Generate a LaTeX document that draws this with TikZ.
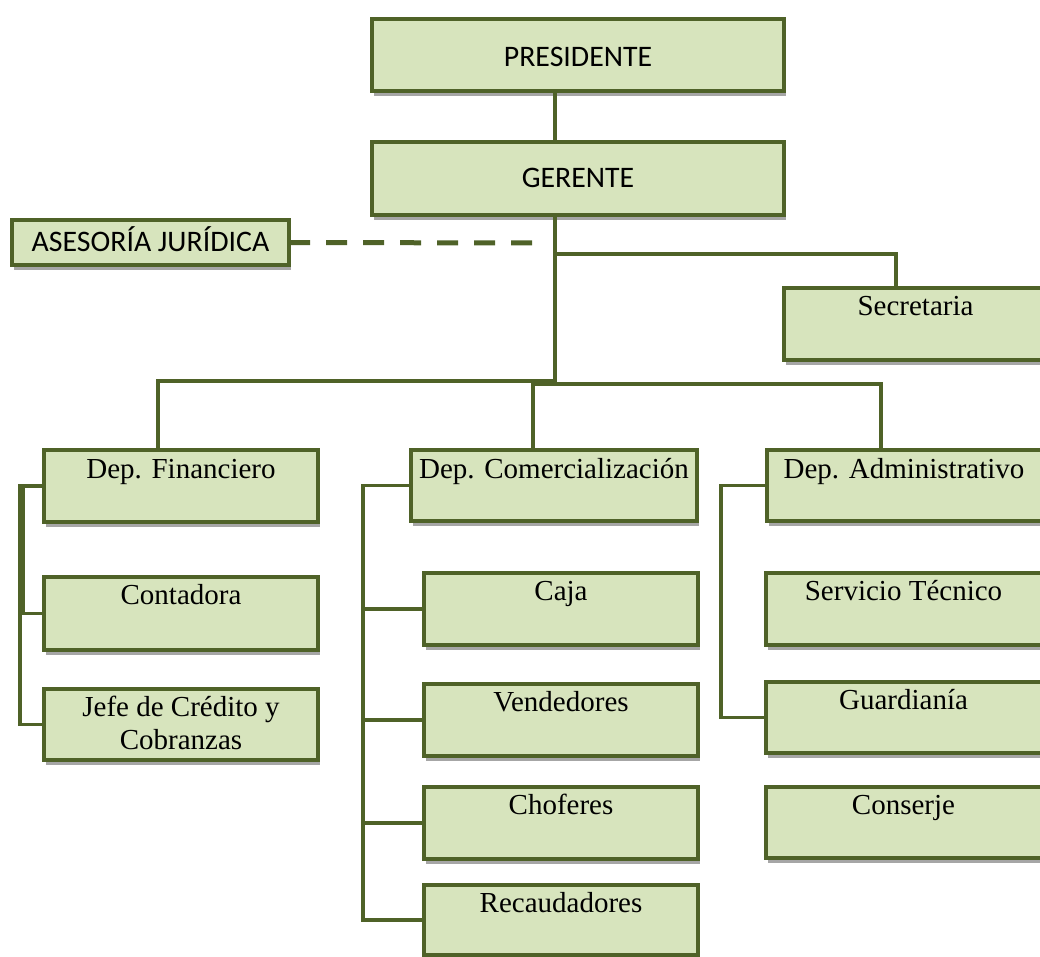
\documentclass[tikz,border=0pt]{standalone}
\usepackage{fontspec}
\setmainfont{Liberation Serif}
\newfontfamily\calib{Carlito}
\usetikzlibrary{shadows,calc}
\definecolor{boxfill}{RGB}{215,228,189}
\definecolor{olivebd}{RGB}{79,98,40}
\definecolor{shadowgray}{RGB}{166,166,166}
\tikzset{
  box/.style={draw=olivebd, line width=4pt, fill=boxfill, inner sep=0pt, outer sep=0pt,
    drop shadow={shadow xshift=1.5pt, shadow yshift=-5pt, fill=shadowgray, opacity=1}},
  conn/.style={draw=olivebd, line width=3.2pt},
  dashconn/.style={draw=olivebd, line width=5pt, dash pattern=on 21pt off 16pt},
  ctext/.style={font=\calib\fontsize{29.8}{35}\selectfont, text=black, inner sep=0pt, anchor=base},
  ttext/.style={font=\fontsize{29}{33}\selectfont, text=black, inner sep=0pt, align=center, anchor=base},
}
\newcommand\mkbox[5]{%
  \node[box, minimum width={(#4-#2)*1pt}, minimum height={(#5-#3)*1pt}] (#1) at ({(#2+#4)/2},{(#3+#5)/2}) {};}
\begin{document}
\begin{tikzpicture}[x=1pt,y=-1pt]
\useasboundingbox (0,0) rectangle (1040,957);
% boxes
\mkbox{pres}{372}{19}{784}{91}
\mkbox{ger}{372}{142}{784}{215}
\mkbox{ases}{12}{220}{289}{265}
\mkbox{sec}{784}{288}{1043}{360}
\mkbox{fin}{44}{450}{318}{522}
\mkbox{com}{411}{450}{697}{521}
\mkbox{adm}{767}{450}{1043}{521}
\mkbox{cont}{44}{577}{318}{650}
\mkbox{jefe}{44}{689}{318}{760}
\mkbox{caja}{424}{573}{698}{645}
\mkbox{vend}{424}{684}{698}{756}
\mkbox{chof}{424}{787}{698}{859}
\mkbox{rec}{424}{885}{698}{955}
\mkbox{serv}{766}{573}{1043}{645}
\mkbox{guar}{766}{682}{1043}{753}
\mkbox{cons}{766}{787}{1043}{858}
% texts
\node[ctext] (t-pres) at ($(pres.north)+(0,48)$) {PRESIDENTE};
\node[ctext] (t-ger) at ($(ger.north)+(0,46)$) {GERENTE};
\node[ctext] (t-ases) at ($(ases.north)+(0,32)$) {ASESORÍA JURÍDICA};
\node[ttext] (t-sec) at ($(sec.north)+(2,28)$) {Secretaria};
\node[ttext] (t-fin) at ($(fin.north)+(0,28)$) {Dep. Financiero};
\node[ttext] (t-com) at ($(com.north)+(0,28)$) {Dep. Comercialización};
\node[ttext] (t-adm) at ($(adm.north)+(-1,28)$) {Dep. Administrativo};
\node[ttext] (t-cont) at ($(cont.north)+(0,27)$) {Contadora};
\node[ttext] (t-jefe) at ($(jefe.north)+(0,60)$) {Jefe de Crédito y\\Cobranzas};
\node[ttext] (t-caja) at ($(caja.north)+(0,27)$) {Caja};
\node[ttext] (t-vend) at ($(vend.north)+(0,27)$) {Vendedores};
\node[ttext] (t-chof) at ($(chof.north)+(0,27)$) {Choferes};
\node[ttext] (t-rec) at ($(rec.north)+(0,27)$) {Recaudadores};
\node[ttext] (t-serv) at ($(serv.north)+(-1,27)$) {Servicio Técnico};
\node[ttext] (t-guar) at ($(guar.north)+(-1,27)$) {Guardianía};
\node[ttext] (t-cons) at ($(cons.north)+(-1,27)$) {Conserje};
% junction coordinates
\coordinate (j0) at (555,254);
\coordinate (jl) at (555,381);
\coordinate (jb) at (555,384);
\coordinate (fx) at (158,381);
\coordinate (sx) at (896,254);
\coordinate (cx) at (533,384);
\coordinate (ax) at (881,384);
\coordinate (dend) at (538,243);
\coordinate (fb) at (20,0);
\coordinate (fb2) at (23,0);
\coordinate (cb) at (363,0);
\coordinate (ab) at (721,0);
% connectors
\draw[conn] (pres.south -| j0) -- (ger.north -| j0);
\draw[conn] (ger.south -| j0) -- (jb);
\draw[conn] (j0) -- (sx) -- (sec.north -| sx);
\draw[conn] (jl) -- (fx) -- (fin.north -| fx);
\draw[conn] (com.north -| cx) -- (cx) -- (ax) -- (adm.north -| ax);
\draw[dashconn] (ases.east) -- (dend);
\draw[conn] (fin.west) -- (fin.west -| fb) -- (jefe.west -| fb) -- (jefe.west);
\draw[conn] (fin.west -| fb2) -- (cont.west -| fb2);
\draw[conn] (cont.west -| fb) -- (cont.west);
\draw[conn] (com.west) -- (com.west -| cb) -- (rec.west -| cb) -- (rec.west);
\draw[conn] (caja.west -| cb) -- (caja.west);
\draw[conn] (vend.west -| cb) -- (vend.west);
\draw[conn] (chof.west -| cb) -- (chof.west);
\draw[conn] (adm.west) -- (adm.west -| ab) -- (guar.west -| ab) -- (guar.west);
\end{tikzpicture}
\end{document}
